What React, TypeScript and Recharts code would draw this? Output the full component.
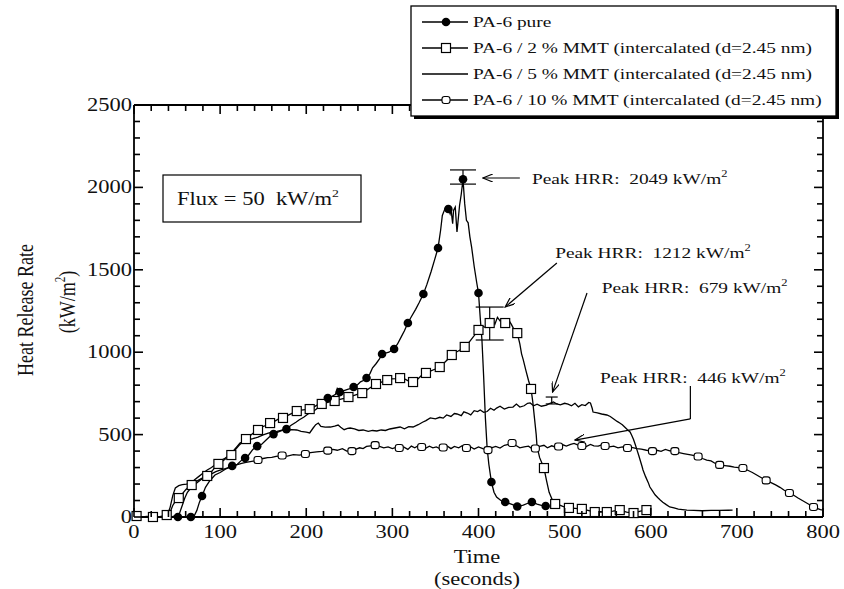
import React from "react";
import {
  ComposedChart,
  Line,
  Scatter,
  XAxis,
  YAxis,
  ReferenceLine,
  ErrorBar,
} from "recharts";

// ---- data: [time (s), HRR (kW/m2)] ----

const PURE: [number, number][] = [
  [0, 0], [10, 0], [20, 0], [30, 0], [40, 0], [50, 0], [60, 0], [66, 0], [70, 8], [73, 40],
  [76, 90], [79, 127], [83, 180], [88, 220], [94, 255], [100, 270], [106, 290], [114, 310],
  [120, 320], [125, 345], [129, 358], [133, 375], [138, 410], [143, 430], [148, 440],
  [154, 470], [158, 490], [162, 503], [167, 515], [172, 525], [177, 533], [182, 555],
  [188, 575], [192, 590], [197, 605], [202, 625], [208, 640], [213, 660], [219, 690],
  [225, 722], [229, 730], [234, 745], [236, 780], [239, 758], [243, 765], [248, 775],
  [252, 780], [255, 789], [259, 800], [263, 820], [267, 830], [270, 843], [274, 870],
  [277, 905], [281, 930], [285, 960], [288, 989], [292, 995], [296, 1000], [299, 1010],
  [302, 1019], [306, 1050], [310, 1090], [314, 1130], [318, 1177], [322, 1215], [327, 1260],
  [331, 1300], [336, 1353], [340, 1410], [345, 1490], [349, 1560], [353, 1632], [356, 1740],
  [358, 1830], [361, 1870], [365, 1869], [367, 1840], [368, 1870], [370, 1780], [371, 1860],
  [373, 1880], [375, 1730], [376, 1780], [378, 1890], [380, 1960], [382, 2049], [384, 1900],
  [386, 1800], [388, 1785], [390, 1700], [392, 1638], [395, 1520], [398, 1420], [400, 1359],
  [402, 1210], [404, 1074], [406, 850], [408, 600], [410, 420], [412, 320], [415, 212],
  [418, 150], [421, 121], [426, 100], [431, 91], [438, 78], [445, 64], [452, 72], [458, 85],
  [462, 91], [468, 78], [473, 70], [478, 67], [481, 65],
];

const MMT2: [number, number][] = [
  [0, 8], [5, 5], [10, 0], [15, 3], [22, 0], [30, 2], [38, 12], [42, 30], [45, 70], [48, 95],
  [52, 115], [56, 140], [60, 165], [64, 185], [67, 194], [72, 215], [77, 230], [81, 240],
  [85, 249], [90, 275], [94, 300], [98, 322], [103, 340], [108, 360], [113, 376], [118, 410],
  [122, 435], [126, 455], [130, 473], [135, 495], [140, 515], [144, 528], [148, 545],
  [153, 555], [158, 570], [163, 580], [168, 595], [173, 601], [178, 615], [184, 630],
  [189, 643], [194, 648], [199, 652], [204, 655], [209, 668], [213, 680], [218, 686],
  [223, 693], [228, 700], [233, 704], [238, 712], [244, 720], [249, 728], [254, 735],
  [260, 745], [265, 752], [270, 770], [276, 790], [281, 807], [286, 815], [290, 825],
  [294, 831], [299, 838], [304, 840], [309, 843], [314, 838], [319, 825], [324, 819],
  [329, 835], [334, 860], [339, 874], [344, 885], [350, 898], [355, 910], [360, 935],
  [365, 960], [369, 983], [374, 1000], [379, 1015], [384, 1032], [389, 1060], [395, 1100],
  [400, 1135], [404, 1160], [408, 1150], [410, 1175], [413, 1177], [416, 1195], [419, 1170],
  [422, 1212], [425, 1190], [428, 1200], [431, 1177], [435, 1195], [438, 1170], [441, 1140],
  [445, 1116], [448, 1050], [450, 990], [452, 953], [455, 890], [458, 830], [461, 777],
  [463, 700], [465, 600], [467, 500], [468, 425], [471, 360], [476, 297], [479, 220],
  [482, 150], [486, 100], [489, 79], [495, 70], [500, 60], [505, 55], [512, 52], [520, 49],
  [527, 40], [535, 30], [542, 32], [549, 30], [556, 35], [564, 42], [572, 30], [580, 24],
  [588, 35], [595, 42], [600, 40],
];

const MMT5: [number, number][] = [
  [0, 0], [10, 0], [20, 0], [30, 0], [36, 0], [39, 15], [42, 60], [45, 130], [48, 176],
  [52, 190], [56, 196], [61, 200], [65, 206], [70, 225], [75, 245], [80, 265], [85, 285],
  [90, 300], [95, 320], [100, 340], [106, 358], [111, 376], [116, 405], [120, 430],
  [123, 449], [128, 460], [133, 468], [138, 475], [144, 485], [150, 498], [155, 508],
  [160, 515], [166, 520], [173, 528], [178, 525], [183, 530], [189, 528], [194, 520],
  [200, 515], [204, 510], [208, 540], [211, 560], [214, 570], [217, 550], [222, 545],
  [228, 546], [233, 552], [237, 558], [240, 545], [244, 530], [248, 538], [251, 540],
  [256, 535], [261, 525], [266, 528], [272, 520], [277, 525], [282, 522], [287, 528],
  [292, 525], [297, 534], [303, 540], [309, 546], [314, 535], [319, 548], [324, 546],
  [330, 560], [335, 575], [339, 585], [344, 601], [350, 595], [355, 605], [359, 600],
  [363, 619], [368, 610], [372, 628], [375, 625], [380, 615], [383, 638], [387, 631],
  [391, 620], [395, 645], [399, 640], [402, 649], [406, 635], [410, 640], [414, 660],
  [418, 648], [421, 661], [425, 672], [430, 655], [435, 665], [440, 667], [444, 685],
  [448, 667], [453, 675], [457, 690], [460, 692], [464, 675], [468, 685], [473, 672],
  [479, 679], [483, 690], [487, 698], [491, 686], [495, 680], [500, 690], [504, 685],
  [508, 675], [512, 690], [516, 668], [520, 682], [524, 676], [528, 695], [530, 692],
  [532, 660], [533, 637], [538, 632], [543, 625], [549, 619], [553, 610], [557, 595],
  [561, 580], [564, 570], [567, 560], [570, 545], [573, 530], [576, 516], [578, 495],
  [580, 470], [582, 440], [584, 407], [586, 375], [588, 340], [590, 305], [591, 285],
  [594, 245], [597, 210], [599, 182], [602, 158], [605, 135], [608, 118], [611, 103],
  [614, 90], [618, 75], [622, 61], [627, 55], [632, 48], [637, 45], [642, 42], [650, 40],
  [660, 38], [670, 40], [680, 40], [690, 41], [695, 42],
];

const MMT10: [number, number][] = [
  [0, 5], [8, 2], [15, 0], [22, 3], [30, 0], [38, 2], [45, 4], [50, 8], [53, 25], [56, 70],
  [59, 115], [62, 150], [66, 175], [70, 195], [75, 215], [80, 235], [85, 250], [90, 262],
  [95, 275], [100, 285], [105, 292], [110, 300], [115, 308], [120, 318], [125, 325],
  [130, 332], [135, 336], [140, 340], [144, 346], [150, 355], [155, 360], [160, 362],
  [165, 368], [172, 373], [178, 370], [185, 378], [192, 375], [199, 382], [205, 390],
  [212, 395], [218, 398], [225, 403], [231, 410], [236, 405], [242, 415], [247, 400],
  [253, 400], [258, 412], [262, 420], [266, 415], [270, 428], [275, 432], [280, 436],
  [285, 428], [290, 420], [295, 425], [300, 415], [304, 422], [308, 419], [313, 425],
  [318, 410], [322, 430], [326, 420], [330, 432], [334, 425], [339, 418], [343, 430],
  [347, 420], [351, 425], [355, 415], [359, 422], [364, 430], [368, 415], [372, 428],
  [377, 420], [381, 432], [386, 419], [390, 428], [395, 412], [400, 425], [405, 415],
  [411, 406], [415, 420], [420, 428], [425, 418], [430, 435], [435, 440], [439, 449],
  [444, 432], [448, 420], [453, 425], [458, 430], [462, 415], [466, 416], [471, 428],
  [476, 435], [480, 420], [485, 432], [489, 425], [493, 428], [498, 438], [502, 430],
  [507, 440], [511, 446], [515, 438], [520, 431], [525, 428], [530, 440], [534, 432],
  [539, 430], [543, 438], [547, 431], [552, 425], [557, 430], [562, 420], [567, 425],
  [573, 419], [578, 422], [584, 415], [589, 412], [595, 405], [602, 400], [607, 405],
  [612, 398], [617, 410], [622, 402], [628, 400], [633, 390], [638, 385], [643, 380],
  [648, 375], [655, 367], [660, 355], [665, 345], [670, 340], [675, 325], [680, 316],
  [686, 312], [692, 308], [697, 302], [702, 300], [707, 297], [712, 285], [718, 270],
  [723, 255], [728, 240], [734, 222], [739, 210], [745, 195], [750, 180], [755, 162],
  [761, 146], [766, 132], [771, 115], [776, 100], [781, 85], [786, 70], [789, 61],
  [793, 52], [797, 45], [800, 42],
];

// marker positions (symbols are drawn sparsely on each trace)
const PURE_MARKS: [number, number][] = [
  [51, 0], [66, 0], [79, 127], [114, 310], [129, 358], [143, 430], [162, 503], [177, 533],
  [225, 722], [239, 758], [255, 789], [270, 843], [288, 989], [302, 1019], [318, 1177],
  [336, 1353], [353, 1632], [365, 1869], [382, 2049], [400, 1359], [415, 212], [431, 91],
  [445, 64], [462, 91], [478, 67],
];
const MMT2_MARKS: [number, number][] = [
  [3, 6], [22, 0], [38, 12], [52, 115], [67, 194], [85, 249], [98, 322], [113, 376],
  [130, 473], [144, 528], [158, 570], [173, 601], [189, 643], [204, 655], [218, 686],
  [233, 704], [249, 728], [265, 752], [281, 807], [294, 831], [309, 843], [324, 819],
  [339, 874], [355, 910], [369, 983], [384, 1032], [400, 1135], [413, 1177], [431, 1177],
  [445, 1116], [461, 777], [476, 297], [489, 79], [505, 55], [520, 49], [535, 30],
  [549, 30], [564, 42], [580, 24], [595, 42],
];
const MMT10_MARKS: [number, number][] = [
  [144, 346], [172, 373], [199, 382], [225, 403], [253, 400], [280, 436], [308, 419],
  [334, 425], [359, 422], [386, 419], [411, 406], [439, 449], [466, 416], [493, 428],
  [520, 431], [547, 431], [573, 419], [602, 400], [628, 400], [655, 367], [680, 316],
  [707, 297], [734, 222], [761, 146], [789, 61],
];

const LEGEND_NAMES = [
  "PA-6 pure",
  "PA-6 / 2 % MMT (intercalated (d=2.45 nm)",
  "PA-6 / 5 % MMT (intercalated (d=2.45 nm)",
  "PA-6 / 10 % MMT (intercalated (d=2.45 nm)",
];

// peak annotations: label anchor [t, v], value, arrow [from, to]
const PEAK_VALUES = ["2049", "1212", "679", "446"];
const PEAK_LABEL_AT: [number, number][] = [[462, 2021], [489, 1572], [543, 1359], [541, 813]];
const PEAK_ARROWS: [number, number, number, number][] = [
  [448, 2057, 405, 2057],
  [491, 1541, 431, 1274],
  [526, 1359, 486, 758],
  [646, 595, 512, 467],
];
const LEADER_446: [number, number, number, number] = [646, 795, 646, 595];

// error bars: [t, centre, half-range]
const PEAK_ERRORS: [number, number, number][] = [
  [382, 2063, 43],
  [413, 1174, 100],
  [485, 707, 21],
];
const ERR_CAPS = [13, 14, 6]; // half-width of the caps, px

const X_LABELS = [0, 100, 200, 300, 400, 500, 600, 700, 800];
const Y_LABELS = [0, 500, 1000, 1500, 2000, 2500];
const X_TICKS = Array.from({ length: 41 }, (_, i) => i * 20);
const Y_TICKS = Array.from({ length: 26 }, (_, i) => i * 100);
const X_MIN = 0, X_MAX = 800, Y_MIN = 0, Y_MAX = 2500;

// chart box: margins plus the 1px axis bands give the plot rectangle
const W = 844, H = 589;
const MARGIN = { top: 104, right: 20, bottom: 71, left: 133 };
const PLOT = {
  left: MARGIN.left + 1,
  right: W - MARGIN.right - 1,
  top: MARGIN.top + 1,
  bottom: H - MARGIN.bottom - 1,
};
const px = (t: number) => PLOT.left + ((t - X_MIN) / (X_MAX - X_MIN)) * (PLOT.right - PLOT.left);
const py = (v: number) => PLOT.bottom - ((v - Y_MIN) / (Y_MAX - Y_MIN)) * (PLOT.bottom - PLOT.top);

const rows = (pts: [number, number][]) => pts.map(([t, v]) => ({ t, v }));

const SERIF = '"Liberation Serif", "Times New Roman", serif';
const SX = 1.25; // the scanned figure is stretched horizontally
const INK = "#111";

function SText({ x, y, size, anchor = "start", rotate = false, children }: any) {
  return (
    <text
      transform={`translate(${x},${y}) scale(${SX},1)${rotate ? " rotate(-90)" : ""}`}
      textAnchor={anchor}
      fontSize={size}
      fontFamily={SERIF}
      fill={INK}
      style={{ whiteSpace: "pre" }}
    >
      {children}
    </text>
  );
}

function BottomLabel({ x, y, payload }: any) {
  if (!X_LABELS.includes(payload.value)) return <g />;
  return (
    <SText x={x} y={y + 21} size={18} anchor="middle">
      {payload.value}
    </SText>
  );
}

function LeftLabel({ x, y, payload }: any) {
  if (!Y_LABELS.includes(payload.value)) return <g />;
  return (
    <SText x={x - 2} y={y + 6} size={18} anchor="end">
      {payload.value}
    </SText>
  );
}

const DotMark = (p: any) => <circle cx={p.cx} cy={p.cy} r={4.3} fill="#000" />;
const SquareMark = (p: any) => (
  <rect x={p.cx - 4.5} y={p.cy - 4.5} width={9} height={9} fill="#fff" stroke="#000" strokeWidth={1.2} />
);
const SmallMark = (p: any) => (
  <rect x={p.cx - 4} y={p.cy - 3.5} width={8} height={7} rx={2.5} fill="#fff" stroke="#000" strokeWidth={1.1} />
);
const NoMark = () => <g />;

const PeakText = (p: any) => (
  <SText x={p.cx} y={p.cy} size={15.5}>
    {`Peak HRR:  ${p.payload.label} kW/m`}
    <tspan fontSize={10} dy={-7}>2</tspan>
  </SText>
);

const AXIS = { stroke: "#000", strokeWidth: 1.8 };

// inward frame ticks (major / minor lengths in px)
function FrameTicks() {
  const T = { stroke: "#000", strokeWidth: 1.6 };
  return (
    <g>
      {X_TICKS.map((t) => {
        const len = X_LABELS.includes(t) ? 9 : 6;
        const x = px(t);
        return (
          <g key={`x${t}`}>
            <line x1={x} x2={x} y1={PLOT.bottom} y2={PLOT.bottom - len} {...T} />
            <line x1={x} x2={x} y1={PLOT.top} y2={PLOT.top + len} {...T} />
          </g>
        );
      })}
      {Y_TICKS.map((v) => {
        const len = Y_LABELS.includes(v) ? 9 : 6;
        const y = py(v);
        return (
          <g key={`y${v}`}>
            <line x1={PLOT.left} x2={PLOT.left + len} y1={y} y2={y} {...T} />
            <line x1={PLOT.right} x2={PLOT.right - len} y1={y} y2={y} {...T} />
          </g>
        );
      })}
    </g>
  );
}

function Overlay() {
  const legendY = [22, 48, 74, 100];
  return (
    <svg width={W} height={H} style={{ position: "absolute", left: 0, top: 0, pointerEvents: "none" }}>
      <FrameTicks />

      {/* axis titles */}
      <SText x={33} y={310} size={18} anchor="middle" rotate>
        Heat Release Rate
      </SText>
      <SText x={75} y={302} size={18} anchor="middle" rotate>
        (kW/m<tspan fontSize={11} dy={-8}>2</tspan>
        <tspan dy={8}>)</tspan>
      </SText>
      <SText x={477} y={563} size={18} anchor="middle">
        Time
      </SText>
      <SText x={477} y={585} size={18} anchor="middle">
        (seconds)
      </SText>

      {/* flux box */}
      <rect x={163} y={175} width={198} height={47} fill="#fff" stroke="#000" strokeWidth={1.2} />
      <SText x={177} y={205} size={18}>
        {"Flux = 50  kW/m"}
        <tspan fontSize={11} dy={-8}>2</tspan>
      </SText>

      {/* legend */}
      <rect x={414} y={9} width={425} height={110} fill="#000" />
      <rect x={411} y={6} width={425} height={110} fill="#fff" stroke="#000" strokeWidth={1.3} />
      {LEGEND_NAMES.map((name, i) => (
        <g key={name}>
          <line x1={422} x2={468} y1={legendY[i]} y2={legendY[i]} stroke="#000" strokeWidth={1.3} />
          {i === 0 && <DotMark cx={446} cy={legendY[i]} />}
          {i === 1 && <SquareMark cx={446} cy={legendY[i]} />}
          {i === 3 && <SmallMark cx={446} cy={legendY[i]} />}
          <SText x={473} y={legendY[i] + 5} size={15.5}>
            {name}
          </SText>
        </g>
      ))}
    </svg>
  );
}

export default function App() {
  const peakLabels = PEAK_LABEL_AT.map(([t, v], i) => ({ t, v, label: PEAK_VALUES[i] }));
  return (
    <div style={{ position: "absolute", left: 0, top: 0, width: W, height: H, background: "#fff" }}>
      <ComposedChart width={W} height={H} margin={MARGIN}>
        <defs>
          <marker id="ah" markerWidth={11} markerHeight={8} refX={10} refY={4} orient="auto" markerUnits="userSpaceOnUse">
            <path d="M0,0 L10,4 L0,8" fill="none" stroke="#000" strokeWidth={1.2} />
          </marker>
        </defs>
        <XAxis
          dataKey="t"
          type="number"
          domain={[X_MIN, X_MAX]}
          ticks={X_TICKS}
          interval={0}
          height={1}
          tickSize={0}
          tickMargin={0}
          tickLine={false}
          axisLine={AXIS}
          tick={(p: any) => <BottomLabel {...p} />}
        />
        <XAxis
          xAxisId="top"
          orientation="top"
          dataKey="t"
          type="number"
          domain={[X_MIN, X_MAX]}
          height={1}
          tick={false}
          tickLine={false}
          axisLine={AXIS}
        />
        <YAxis
          type="number"
          domain={[Y_MIN, Y_MAX]}
          ticks={Y_TICKS}
          interval={0}
          width={1}
          tickSize={0}
          tickMargin={0}
          tickLine={false}
          axisLine={AXIS}
          tick={(p: any) => <LeftLabel {...p} />}
        />
        <YAxis
          yAxisId="right"
          orientation="right"
          type="number"
          domain={[Y_MIN, Y_MAX]}
          width={1}
          tick={false}
          tickLine={false}
          axisLine={AXIS}
        />

        <Line data={rows(MMT10)} dataKey="v" type="linear" stroke="#000" strokeWidth={1.3} dot={false} isAnimationActive={false} />
        <Line data={rows(MMT5)} dataKey="v" type="linear" stroke="#000" strokeWidth={1.3} dot={false} isAnimationActive={false} />
        <Line data={rows(MMT2)} dataKey="v" type="linear" stroke="#000" strokeWidth={1.3} dot={false} isAnimationActive={false} />
        <Line data={rows(PURE)} dataKey="v" type="linear" stroke="#000" strokeWidth={1.3} dot={false} isAnimationActive={false} />

        <Scatter data={rows(MMT10_MARKS)} dataKey="v" shape={SmallMark} isAnimationActive={false} />
        <Scatter data={rows(MMT2_MARKS)} dataKey="v" shape={SquareMark} isAnimationActive={false} />
        <Scatter data={rows(PURE_MARKS)} dataKey="v" shape={DotMark} isAnimationActive={false} />

        {PEAK_ERRORS.map(([t, v, e], i) => (
          <Scatter key={`err${i}`} data={[{ t, v, e }]} dataKey="v" shape={NoMark} isAnimationActive={false}>
            <ErrorBar dataKey="e" direction="y" width={ERR_CAPS[i]} stroke="#000" strokeWidth={1.2} />
          </Scatter>
        ))}

        {PEAK_ARROWS.map(([t1, v1, t2, v2], i) => (
          <ReferenceLine
            key={`arr${i}`}
            segment={[{ x: t1, y: v1 }, { x: t2, y: v2 }]}
            stroke="#000"
            strokeWidth={1.2}
            markerEnd="url(#ah)"
          />
        ))}
        <ReferenceLine
          segment={[{ x: LEADER_446[0], y: LEADER_446[1] }, { x: LEADER_446[2], y: LEADER_446[3] }]}
          stroke="#000"
          strokeWidth={1.2}
        />

        <Scatter data={peakLabels} dataKey="v" shape={PeakText} isAnimationActive={false} />
      </ComposedChart>
      <Overlay />
    </div>
  );
}
